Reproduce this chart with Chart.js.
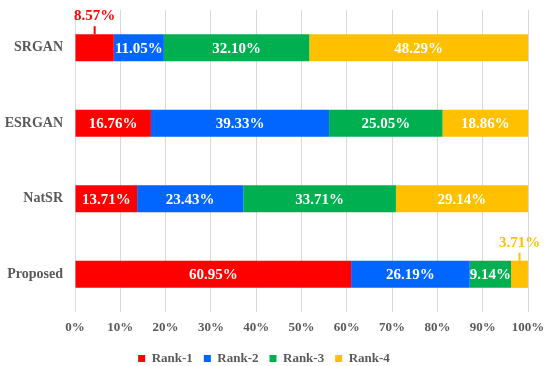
<!DOCTYPE html>
<html>
<head>
<meta charset="utf-8">
<script src="https://cdn.jsdelivr.net/npm/chart.js@4/dist/chart.umd.min.js"></script>
<style>
  html, body { margin: 0; padding: 0; background: #fff; }
  #wrap { width: 550px; height: 366px; position: relative; }
</style>
</head>
<body>
<div id="wrap"><canvas id="rankChart"></canvas></div>
<script>
// ================= DATA =================
const methods = ["SRGAN", "ESRGAN", "NatSR", "Proposed"];
const rankNames = ["Rank-1", "Rank-2", "Rank-3", "Rank-4"];
const rank1 = [8.57, 16.76, 13.71, 60.95];
const rank2 = [11.05, 39.33, 23.43, 26.19];
const rank3 = [32.10, 25.05, 33.71, 9.14];
const rank4 = [48.29, 18.86, 29.14, 3.71];
const xTicks = [0, 10, 20, 30, 40, 50, 60, 70, 80, 90, 100];

const colores = ["#FF0000", "#0066FF", "#00B050", "#FFC000"];
const gris = "#595959";
const serif = "'Liberation Serif', 'Times New Roman', serif";

// ================= PLUGIN ETIQUETAS =================
const barLabels = {
  id: "barLabels",
  afterDatasetsDraw(chart) {
    const { ctx } = chart;
    ctx.save();
    ctx.font = "bold 15px " + serif;
    ctx.textAlign = "center";
    ctx.textBaseline = "middle";

    chart.data.datasets.forEach((ds, di) => {
      const meta = chart.getDatasetMeta(di);
      meta.data.forEach((bar, i) => {
        const v = ds.data[i];
        const txt = v.toFixed(2) + "%";
        const cx = (bar.x + bar.base) / 2;

        if (v < 9) {
          // etiqueta fuera, arriba de la barra con linea guia
          const top = bar.y - bar.height / 2;
          ctx.strokeStyle = ds.backgroundColor;
          ctx.lineWidth = 2;
          ctx.beginPath();
          ctx.moveTo(cx, top - 8);
          ctx.lineTo(cx, top);
          ctx.stroke();
          ctx.fillStyle = ds.backgroundColor;
          ctx.fillText(txt, cx, top - 18);
        } else {
          ctx.fillStyle = "#fff";
          ctx.fillText(txt, cx, bar.y + 1);
        }
      });
    });
    ctx.restore();
  }
};

// ================= CHART =================
const series = [rank1, rank2, rank3, rank4];

new Chart(document.getElementById("rankChart").getContext("2d"), {
  type: "bar",
  data: {
    labels: methods,
    datasets: series.map((d, i) => ({
      label: rankNames[i],
      data: d,
      backgroundColor: colores[i],
      borderWidth: 0,
      categoryPercentage: 0.36,
      barPercentage: 1
    }))
  },
  plugins: [barLabels],
  options: {
    indexAxis: "y",
    responsive: true,
    maintainAspectRatio: false,
    animation: false,
    layout: { padding: { top: 10, right: 22, left: 0, bottom: -9 } },
    scales: {
      x: {
        stacked: true,
        min: 0,
        max: 100,
        afterBuildTicks: axis => { axis.ticks = xTicks.map(v => ({ value: v })); },
        afterFit: axis => {
          axis.height = 29;
          axis.paddingLeft = 0;
          axis.paddingRight = 0;
        },
        ticks: {
          color: gris,
          font: { family: serif, size: 13, weight: "bold" },
          padding: 8,
          callback: v => v + "%"
        },
        grid: { color: "#d9d9d9", lineWidth: 1, drawTicks: false },
        border: { display: false }
      },
      y: {
        stacked: true,
        afterFit: axis => {
          axis.width = 75;
          axis.paddingTop = 0;
          axis.paddingBottom = 0;
        },
        ticks: {
          color: gris,
          font: { family: serif, size: 14, weight: "bold" },
          padding: 12
        },
        grid: { display: false, drawTicks: false },
        border: { display: false }
      }
    },
    plugins: {
      legend: {
        position: "bottom",
        labels: {
          color: gris,
          font: { family: serif, size: 13, weight: "bold" },
          boxWidth: 7,
          boxHeight: 7,
          padding: 11
        }
      },
      tooltip: { enabled: false }
    }
  }
});
</script>
</body>
</html>
